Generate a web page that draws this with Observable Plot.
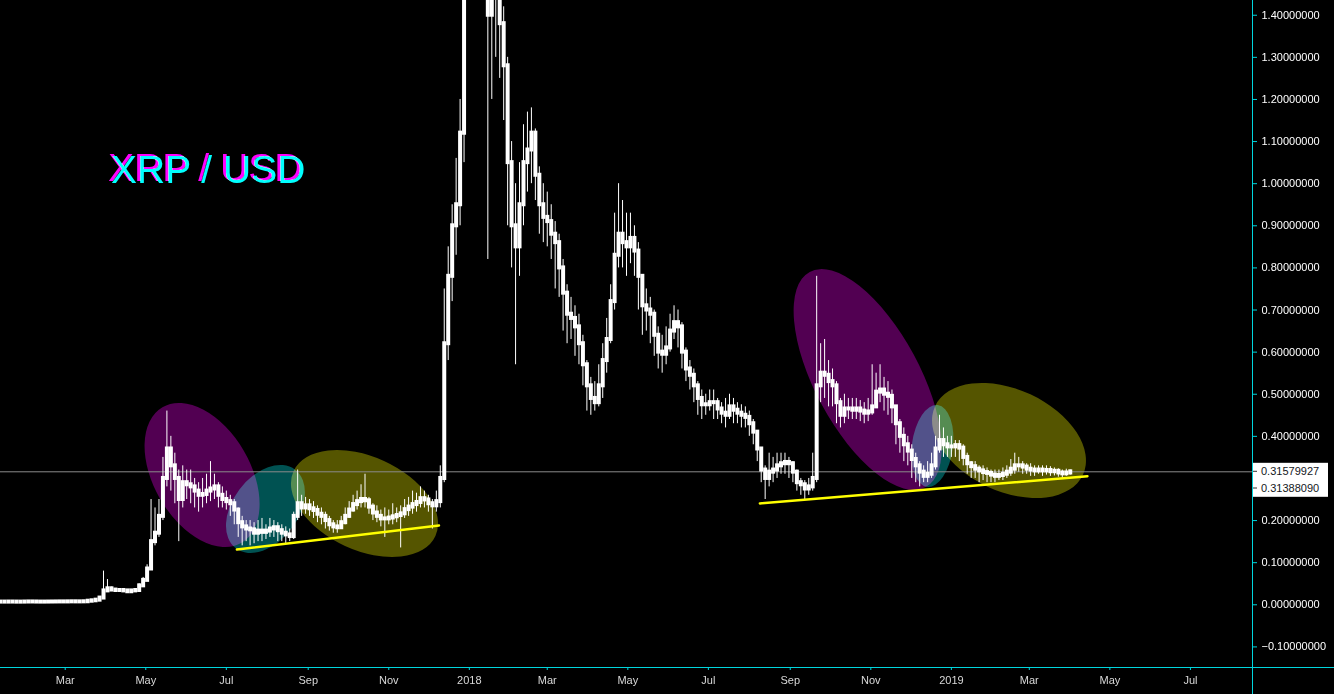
<!DOCTYPE html>
<html><head><meta charset="utf-8">
<script src="https://cdn.jsdelivr.net/npm/d3@7"></script>
<script src="https://cdn.jsdelivr.net/npm/@observablehq/plot@0.6"></script>
<style>
html,body{margin:0;padding:0;background:#000;overflow:hidden}
#chart svg{display:block}
</style></head><body><div id="chart"></div>
<script>
// ---- data: 3-day XRP/USD candles starting 2017-01-11 ----
const startDate = "2017-01-11";
const candleDays = 3;
const firstOpen = 0.0064;
const closes = [
.0065,.0064,.0066,.0065,.0063,.0064,.0066,.0068,.0067,.0065,
.0064,.0065,.0066,.0067,.0068,.0069,.0068,.0070,.0071,.0069,
.0070,.0072,.0085,.0095,.0110,.0160,.0330,.0380,.0350,.0340,
.0340,.0330,.0310,.0330,.0340,.0450,.0580,.0850,.1500,.1700,
.2100,.3000,.3700,.3300,.3000,.2500,.2900,.2850,.2800,.2700,
.2600,.2620,.2700,.2750,.2800,.2600,.2500,.2450,.2400,.2250,
.1950,.1850,.1800,.1780,.1700,.1750,.1720,.1750,.1800,.1830,
.1760,.1700,.1660,.1620,.2100,.2400,.2300,.2350,.2280,.2240,
.2150,.2100,.2000,.1900,.1850,.1830,.1950,.2100,.2250,.2380,
.2450,.2500,.2470,.2320,.2180,.2100,.2040,.2040,.2060,.2090,
.2120,.2160,.2260,.2320,.2380,.2430,.2520,.2490,.2400,.2350,
.2450,.3000,.6200,.7800,.9000,.9500,1.12,1.70,2.00,3.00,
2.90,2.00,1.90,1.40,1.60,1.45,1.38,1.28,1.05,.9000,
.8500,.9500,1.05,1.08,1.12,1.02,.9500,.9200,.9100,.8800,
.8600,.8000,.7400,.6900,.6800,.6600,.6200,.5700,.5200,.4900,
.4800,.5200,.5800,.6300,.7200,.8300,.8800,.8600,.8500,.8700,
.8400,.7800,.7100,.7000,.6900,.6400,.6000,.5950,.6100,.6500,
.6700,.6600,.6000,.5600,.5450,.5200,.4900,.4750,.4750,.4800,
.4800,.4650,.4550,.4500,.4700,.4620,.4550,.4500,.4450,.4300,
.4100,.3700,.3200,.3000,.3150,.3200,.3300,.3350,.3380,.3350,
.3150,.2900,.2850,.2750,.2800,.3000,.5200,.5500,.5450,.5300,
.5200,.4800,.4500,.4650,.4650,.4620,.4650,.4600,.4550,.4580,
.4700,.5050,.5100,.5000,.4950,.4700,.4300,.4000,.3800,.3650,
.3450,.3300,.3150,.3050,.3100,.3300,.3700,.3900,.3800,.3750,
.3750,.3780,.3720,.3500,.3350,.3280,.3220,.3180,.3140,.3120,
.3080,.3050,.3070,.3100,.3150,.3220,.3300,.3300,.3270,.3220,
.3200,.3180,.3200,.3180,.3190,.3160,.3170,.3130,.3110,.3130,.3158
];
const highs = [
.0068,.0067,.0068,.0067,.0066,.0066,.0069,.0071,.0070,.0068,
.0067,.0068,.0069,.0070,.0072,.0073,.0072,.0074,.0075,.0073,
.0074,.0076,.0092,.0110,.0125,.0190,.0800,.0600,.0420,.0380,
.0370,.0360,.0350,.0360,.0370,.0500,.0650,.0950,.2500,.2300,
.2500,.3500,.4600,.4000,.3600,.3200,.3300,.3200,.3200,.3000,
.2900,.3000,.3100,.3400,.3100,.2900,.2800,.2700,.2600,.2500,
.2300,.2100,.2000,.2000,.1950,.2000,.2050,.1900,.2050,.2000,
.1950,.1900,.1850,.1800,.2200,.3200,.2600,.2550,.2500,.2450,
.2350,.2300,.2200,.2100,.2000,.2000,.2100,.2300,.2450,.2600,
.2700,.2850,.3100,.2550,.2400,.2350,.2250,.2300,.2250,.2400,
.2300,.2350,.2500,.2550,.2700,.2650,.2800,.2700,.2600,.2500,
.2700,.3300,.7500,.8500,.9500,1.06,1.20,1.80,2.30,3.30,
3.30,2.90,2.10,1.90,1.70,1.65,1.50,1.42,1.30,1.10,
1.00,1.05,1.14,1.17,1.18,1.13,1.04,1.00,.9800,.9500,
.9100,.8800,.8200,.7600,.7300,.7100,.6900,.6400,.5800,.5400,
.5300,.5700,.6200,.6800,.7600,.9300,1.00,.9600,.9300,.9300,
.9000,.8600,.7700,.7500,.7300,.7000,.6600,.6400,.6600,.6900,
.7100,.7000,.6700,.6100,.5800,.5600,.5300,.5100,.5000,.5100,
.5100,.4900,.4800,.4900,.5000,.4900,.4800,.4750,.4700,.4600,
.4400,.4100,.3700,.3300,.3600,.3500,.3600,.3600,.3600,.3500,
.3400,.3200,.3000,.2950,.3000,.3600,.7800,.6200,.6300,.5800,
.5600,.5300,.4900,.5000,.4900,.4900,.4900,.4850,.4800,.4900,
.5700,.5500,.5700,.5400,.5300,.5100,.4700,.4400,.4200,.4000,
.3800,.3600,.3400,.3300,.3400,.3600,.4000,.4500,.4200,.4000,
.4000,.3900,.3900,.3800,.3600,.3400,.3400,.3300,.3300,.3250,
.3200,.3200,.3200,.3250,.3300,.3450,.3600,.3500,.3400,.3350,
.3350,.3300,.3300,.3300,.3300,.3280,.3250,.3230,.3200,.3220,.3200
];
const lows = [
.0062,.0062,.0063,.0063,.0061,.0062,.0063,.0065,.0065,.0063,
.0062,.0063,.0064,.0065,.0066,.0067,.0066,.0067,.0068,.0067,
.0068,.0069,.0071,.0083,.0092,.0105,.0150,.0300,.0320,.0310,
.0320,.0300,.0270,.0300,.0320,.0330,.0440,.0560,.0820,.1400,
.1600,.2000,.2800,.2700,.2400,.1500,.2300,.2500,.2400,.2300,
.2200,.2300,.2400,.2450,.2500,.2300,.2300,.2250,.2100,.1900,
.1600,.1400,.1500,.1400,.1450,.1500,.1500,.1550,.1600,.1600,
.1500,.1500,.1450,.1500,.1550,.2000,.2100,.2150,.2100,.2050,
.1950,.1900,.1800,.1750,.1700,.1700,.1800,.1900,.2050,.2200,
.2250,.2300,.2300,.2150,.2000,.1950,.1850,.1600,.1900,.1900,
.1950,.1350,.2050,.2100,.2150,.2200,.2300,.2300,.2200,.1800,
.2200,.2300,.2900,.5800,.7200,.8300,.9000,1.05,1.70,1.90,
2.50,1.80,1.60,.8200,1.20,1.30,1.25,1.15,.9000,.8000,
.5700,.7800,.9000,.9800,1.00,.9600,.8800,.8600,.8500,.8200,
.7500,.7300,.6500,.6200,.6300,.5900,.5700,.5200,.4600,.4500,
.4600,.4700,.4900,.5500,.6200,.7000,.8000,.8000,.7800,.8100,
.7800,.7000,.6400,.6500,.6200,.5900,.5600,.5500,.5700,.6000,
.6300,.6100,.5600,.5300,.5100,.4800,.4500,.4400,.4500,.4600,
.4400,.4400,.4300,.4200,.4400,.4300,.4300,.4200,.4200,.4000,
.3800,.3400,.2900,.2500,.2800,.2900,.3000,.3100,.3100,.3000,
.2900,.2700,.2600,.2500,.2600,.2700,.2900,.4800,.4900,.4700,
.4700,.4300,.4200,.4300,.4400,.4400,.4400,.4350,.4300,.4350,
.4500,.4700,.4800,.4600,.4500,.4300,.3800,.3600,.3400,.3300,
.3000,.2900,.2800,.2900,.2900,.3000,.3200,.3600,.3500,.3500,
.3500,.3500,.3400,.3300,.3100,.3000,.3000,.2900,.2950,.2900,
.2900,.2900,.2950,.2950,.3000,.3050,.3100,.3150,.3100,.3100,
.3050,.3050,.3100,.3050,.3080,.3050,.3060,.3030,.3000,.3050,.3080
];
const lastPrice = 0.31579927;
const secondPrice = 0.31388090;
const yTicks = [-0.1,0,0.1,0.2,0.4,0.5,0.6,0.7,0.8,0.9,1.0,1.1,1.2,1.3,1.4];
const xTicks = ["2017-03-01","2017-05-01","2017-07-01","2017-09-01","2017-11-01","2018-01-01",
  "2018-03-01","2018-05-01","2018-07-01","2018-09-01","2018-11-01","2019-01-01",
  "2019-03-01","2019-05-01","2019-07-01"];
const monthNames = ["Jan","Feb","Mar","Apr","May","Jun","Jul","Aug","Sep","Oct","Nov","Dec"];
// support trendlines
const trendIds    = ["2017","2017","2018","2018"];
const trendDates  = ["2017-07-09","2017-12-09","2018-08-09","2019-04-14"];
const trendValues = [0.1313, 0.1883, 0.2407, 0.3054];
// highlight ellipses (centre in data units)
const ellipseDates  = ["2017-06-13","2017-07-31","2017-10-14","2018-10-30","2018-12-18","2019-02-14"];
const ellipseValues = [0.307, 0.2263, 0.2394, 0.5338, 0.3759, 0.389];
const ellipseKinds  = ["purple","teal","olive","purple","teal","olive"];

// ---- layout / style ----
const W = 1334, H = 694, mR = 82, mB = 27;
const CYAN = "#00d5dd";
const FONT = "'Liberation Sans', Arial, sans-serif";
const ellipseShape = [
  {rx:78.5, ry:48.3, angle:59.7},
  {rx:49.3, ry:32.6, angle:-53},
  {rx:78,   ry:46.8, angle:24.6},
  {rx:122.2,ry:52.4, angle:61.7},
  {rx:41.3, ry:20.5, angle:-82.6},
  {rx:81.5, ry:50.9, angle:24.9}
];
const ellipseFill = {purple:"#520052", teal:"#005252", olive:"#555500"};

const t0 = new Date(startDate + "T00:00:00Z");
const candles = closes.map((c, i) => ({
  date: d3.utcDay.offset(t0, candleDays * i),
  open: i === 0 ? firstOpen : closes[i - 1],
  close: c, high: highs[i], low: lows[i]
}));
const trends = trendDates.map((d, i) => ({id: trendIds[i], date: new Date(d + "T00:00:00Z"), value: trendValues[i]}));
const fmtY = v => (v < 0 ? "\u2212" : "") + Math.abs(v).toFixed(8);
const fmtX = d => d.getUTCMonth() === 0 ? String(d.getUTCFullYear()) : monthNames[d.getUTCMonth()];

const plot = Plot.plot({
  width: W, height: H,
  marginLeft: 0, marginRight: mR, marginTop: 0, marginBottom: mB,
  style: {background: "#000", color: "#fff", fontFamily: FONT, fontSize: "11px", overflow: "visible"},
  x: {type: "utc", domain: [new Date("2017-01-11T00:00:00Z"), new Date("2019-08-17T00:00:00Z")]},
  y: {domain: [-0.1489, 1.435]},
  marks: [
    Plot.ruleY([lastPrice], {stroke: "#8a8a8a", strokeWidth: 1}),
    Plot.ruleX(candles, {x: "date", y1: "low", y2: "high", stroke: "#fff", strokeWidth: 1, clip: true}),
    Plot.ruleX(candles, {x: "date", y1: "open", y2: "close", stroke: "#fff", strokeWidth: 4, strokeLinecap: "square", clip: true}),
    Plot.line(trends, {x: "date", y: "value", z: "id", stroke: "#ffff00", strokeWidth: 2.5}),
    Plot.axisY({anchor: "right", ticks: yTicks, tickFormat: fmtY, tickSize: 4, tickPadding: 5, stroke: CYAN, fill: "#fff", label: null}),
    Plot.axisX({anchor: "bottom", ticks: xTicks.map(d => new Date(d + "T00:00:00Z")), tickFormat: fmtX, tickSize: 3, tickPadding: 6, stroke: CYAN, fill: "#d8d8d8", label: null})
  ]
});
document.getElementById("chart").appendChild(plot);

const sx = plot.scale("x"), sy = plot.scale("y");
const svg = d3.select(plot);
// magenta offset shadow filter for the title
const defs = svg.append("defs");
defs.append("filter").attr("id", "magshadow").attr("x", "-10%").attr("y", "-20%").attr("width", "120%").attr("height", "140%")
  .append("feDropShadow").attr("dx", -3).attr("dy", -2).attr("stdDeviation", 0)
  .attr("flood-color", "#ff00ff").attr("flood-opacity", 1);
// ellipses beneath all marks
const eg = svg.insert("g", "g");
ellipseDates.forEach((d, i) => {
  const cx = sx.apply(new Date(d + "T00:00:00Z")), cy = sy.apply(ellipseValues[i]);
  const s = ellipseShape[i];
  eg.append("ellipse").attr("cx", cx).attr("cy", cy).attr("rx", s.rx).attr("ry", s.ry)
    .attr("transform", `rotate(${s.angle} ${cx} ${cy})`)
    .attr("fill", ellipseFill[ellipseKinds[i]])
    .style("mix-blend-mode", "screen");
});
// axis lines
const xr = W - mR + 0.5, yb = H - mB + 0.5;
svg.append("line").attr("x1", xr).attr("x2", xr).attr("y1", 0).attr("y2", H).attr("stroke", CYAN);
svg.append("line").attr("x1", 0).attr("x2", W).attr("y1", yb).attr("y2", yb).attr("stroke", CYAN);
// price labels
const py = sy.apply(lastPrice);
svg.append("rect").attr("x", W - mR + 1).attr("y", py - 8.5).attr("width", 75).attr("height", 34).attr("fill", "#fff");
[lastPrice, secondPrice].forEach((v, k) => {
  const yy = py + k * 16.7;
  svg.append("line").attr("x1", W - mR + 1).attr("x2", W - mR + 5).attr("y1", yy).attr("y2", yy).attr("stroke", "#333");
  svg.append("text").attr("x", W - mR + 9).attr("y", yy).attr("dy", "0.35em").attr("text-anchor", "start")
    .attr("fill", "#131722").attr("font-size", 11).text(v.toFixed(8));
});
// title (cyan with magenta offset shadow)
svg.append("text").attr("x", 111).attr("y", 183).attr("text-anchor", "start")
  .attr("fill", "#00ffff").attr("font-size", 39).attr("font-family", FONT)
  .attr("filter", "url(#magshadow)").text("XRP / USD");
</script></body></html>
